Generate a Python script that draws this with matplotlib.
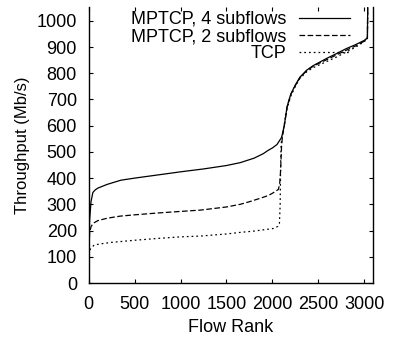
import matplotlib
matplotlib.use('Agg')
import matplotlib.pyplot as plt

# ranks / throughput
rank_4 = [0, 10, 25, 45, 70, 100, 200, 350, 500, 750, 1000, 1250, 1500, 1650, 1800, 1900,
          1950, 2000, 2050, 2100, 2130, 2160, 2200, 2250, 2300, 2375, 2450, 2600, 2700,
          2800, 2900, 3000, 3035, 3040]
tput_4 = [130, 240, 310, 345, 355, 362, 376, 392, 400, 412, 424, 435, 448, 459, 476, 493,
          505, 515, 528, 555, 600, 672, 720, 755, 785, 812, 830, 858, 875, 893, 908, 925,
          935, 1100]

rank_2 = [0, 10, 25, 50, 100, 200, 341, 500, 750, 1000, 1215, 1500, 1649, 1750, 1867, 1950,
          2000, 2066, 2080, 2090, 2100, 2110, 2130, 2160, 2200, 2250, 2300, 2375, 2450, 2600,
          2700, 2800, 2900, 3000, 3035, 3040]
tput_2 = [110, 190, 215, 228, 238, 247, 255, 260, 267, 273, 278, 290, 300, 310, 323, 333,
          342, 357, 380, 430, 520, 560, 600, 670, 718, 753, 783, 810, 828, 853, 870, 887,
          903, 922, 933, 1100]

rank_tcp = [0, 10, 30, 60, 123, 250, 500, 750, 1000, 1215, 1500, 1649, 1800, 2012, 2060,
            2077, 2085, 2090, 2095, 2110, 2130, 2160, 2200, 2250, 2300, 2375, 2450, 2600,
            2700, 2800, 2900, 3000, 3035, 3040]
tput_tcp = [90, 125, 135, 145, 149, 155, 163, 170, 176, 179, 187, 193, 198, 208, 216,
            228, 300, 450, 530, 565, 605, 665, 712, 750, 780, 806, 822, 846, 862, 880, 898,
            920, 932, 1100]

labels = ['MPTCP, 4 subflows', 'MPTCP, 2 subflows', 'TCP']
xticks = [0, 500, 1000, 1500, 2000, 2500, 3000]
yticks = list(range(0, 1001, 100))

plt.rcParams['font.family'] = ['Liberation Sans', 'DejaVu Sans']
fs = 13

fig = plt.figure(figsize=(3.95, 3.4), dpi=100)
ax = fig.add_axes([0.2246, 0.1676, 0.719, 0.8114])

ax.plot(rank_4, tput_4, color='black', lw=0.9, label=labels[0])
ax.plot(rank_2, tput_2, color='black', lw=0.9, linestyle=(0, (4.5, 2.0)), label=labels[1])
ax.plot(rank_tcp, tput_tcp, color='black', lw=0.9, linestyle=(0, (1.4, 2.4)), label=labels[2])

ax.set_xlim(0, 3093)
ax.set_ylim(0, 1052)
ax.set_xticks(xticks)
ax.set_yticks(yticks)
ax.spines['top'].set_visible(False)
for s in ['left', 'right', 'bottom']:
    ax.spines[s].set_linewidth(1.0)
ax.tick_params(axis='both', direction='in', length=3, width=0.8, labelsize=fs,
               top=True, right=True)
ax.tick_params(axis='y', pad=8.5)
ax.tick_params(axis='x', pad=9)

ax.set_xlabel('Flow Rank', fontsize=fs, labelpad=5)
ax.set_ylabel('Throughput (Mb/s)', fontsize=12, labelpad=5)

leg = ax.legend(loc='upper right', bbox_to_anchor=(350 / 395, 1 - 11 / 340),
                bbox_transform=fig.transFigure, frameon=False, fontsize=fs,
                markerfirst=False, handlelength=2.8, handletextpad=0.75,
                labelspacing=0.0, borderpad=0, borderaxespad=0)

fig.savefig('out.png', dpi=100)
